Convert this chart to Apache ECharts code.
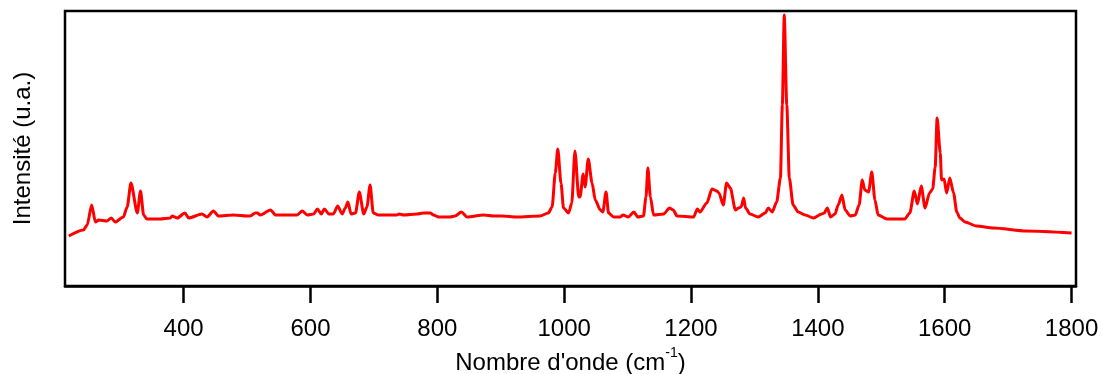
<!DOCTYPE html>
<html>
<head>
<meta charset="utf-8">
<script src="https://cdn.jsdelivr.net/npm/echarts@6/dist/echarts.min.js"></script>
<style>
html,body{margin:0;padding:0;background:#fff;}
#c{width:1103px;height:374px;}
</style>
</head>
<body>
<div id="c"></div>
<script>
// Raman spectrum
const wavenumbers = [219,242,248,255,261,266,279,286,292,305,311,317,327,332,337,342,363,379,382,390,402,408,429,437,447,455,479,500,505,513,516,521,537,545,579,587,595,605,611,617,622,629,636,643,650,655,659,664,671,677,684,689,694,699,707,736,740,747,768,778,789,794,802,820,828,838,847,873,889,902,925,962,975,981,986,990,995,999,1007,1012,1017,1023,1025,1030,1033,1038,1044,1049,1057,1061,1066,1070,1078,1088,1093,1101,1110,1116,1125,1129,1132,1136,1141,1157,1166,1172,1178,1204,1210,1214,1225,1233,1241,1244,1251,1256,1262,1270,1275,1279,1283,1286,1293,1306,1317,1322,1328,1335,1341,1344,1347,1351,1355,1361,1369,1380,1393,1406,1410,1415,1420,1427,1432,1438,1443,1451,1459,1465,1470,1474,1480,1485,1490,1495,1509,1537,1545,1552,1557,1563,1569,1576,1581,1585,1588,1593,1595,1599,1603,1608,1614,1619,1624,1632,1650,1677,1729,1800];
const intensity = [50,56,61,81,64,66,65,68,64,69,79,103,73,95,71,67,67,68,70,68,73,68,72,69,75,70,71,70,70,73,73,71,76,71,71,75,71,72,77,72,77,72,72,80,72,78,84,72,73,94,72,79,101,73,71,71,72,71,72,73,73,71,69,69,70,74,69,71,70,70,69,70,73,79,113,137,103,78,73,83,135,89,89,112,99,127,103,86,76,74,94,73,69,69,71,69,74,69,70,89,118,89,71,72,78,76,70,69,77,74,83,97,95,93,81,103,98,76,78,79,88,78,72,69,73,78,74,84,108,181,271,181,108,81,74,71,68,72,73,78,69,72,81,91,76,70,71,81,106,96,94,114,86,71,67,67,73,95,82,100,78,93,97,119,168,133,106,107,93,108,93,74,68,64,60,58,55,53];
const xTicks = [400,600,800,1000,1200,1400,1600,1800];

const chart = echarts.init(document.getElementById('c'), null, {renderer:'canvas'});
const data = wavenumbers.map((w,i)=>[w,intensity[i]]);
const FONT = 'Liberation Sans, Arial, sans-serif';
chart.setOption({
  animation:false,
  backgroundColor:'#fff',
  grid:{left:65,right:27,top:11,bottom:88,containLabel:false,outerBoundsMode:'none',show:true,borderColor:'#000',borderWidth:2.5,backgroundColor:'transparent'},
  xAxis:{
    type:'value',min:213,max:1807,
    name:"Nombre d'onde (cm{sup|-1})",
    nameLocation:'middle',nameGap:55,
    nameTextStyle:{fontFamily:FONT,fontSize:24,color:'#000',
      rich:{sup:{fontFamily:FONT,fontSize:14,color:'#000',verticalAlign:'bottom',padding:[0,0,20,0]}}},
    axisLine:{show:true,onZero:false,lineStyle:{color:'#000',width:2.5}},
    axisTick:{show:true,inside:false,length:17,customValues:xTicks,lineStyle:{color:'#000',width:2.5}},
    axisLabel:{show:true,customValues:xTicks,margin:31,fontFamily:FONT,fontSize:24,color:'#000',
      formatter:function(v){return String(v);}},
    splitLine:{show:false}
  },
  yAxis:{
    type:'value',min:0,max:275,
    name:'Intensité (u.a.)',nameLocation:'middle',nameGap:30,nameRotate:90,
    nameTextStyle:{fontFamily:FONT,fontSize:24,color:'#000'},
    axisLine:{show:false},axisTick:{show:false},axisLabel:{show:false},splitLine:{show:false}
  },
  series:[{
    type:'line',data:data,showSymbol:false,smooth:0.25,smoothMonotone:'x',
    lineStyle:{color:'#ff0000',width:3},
    clip:true
  }]
});
</script>
</body>
</html>
